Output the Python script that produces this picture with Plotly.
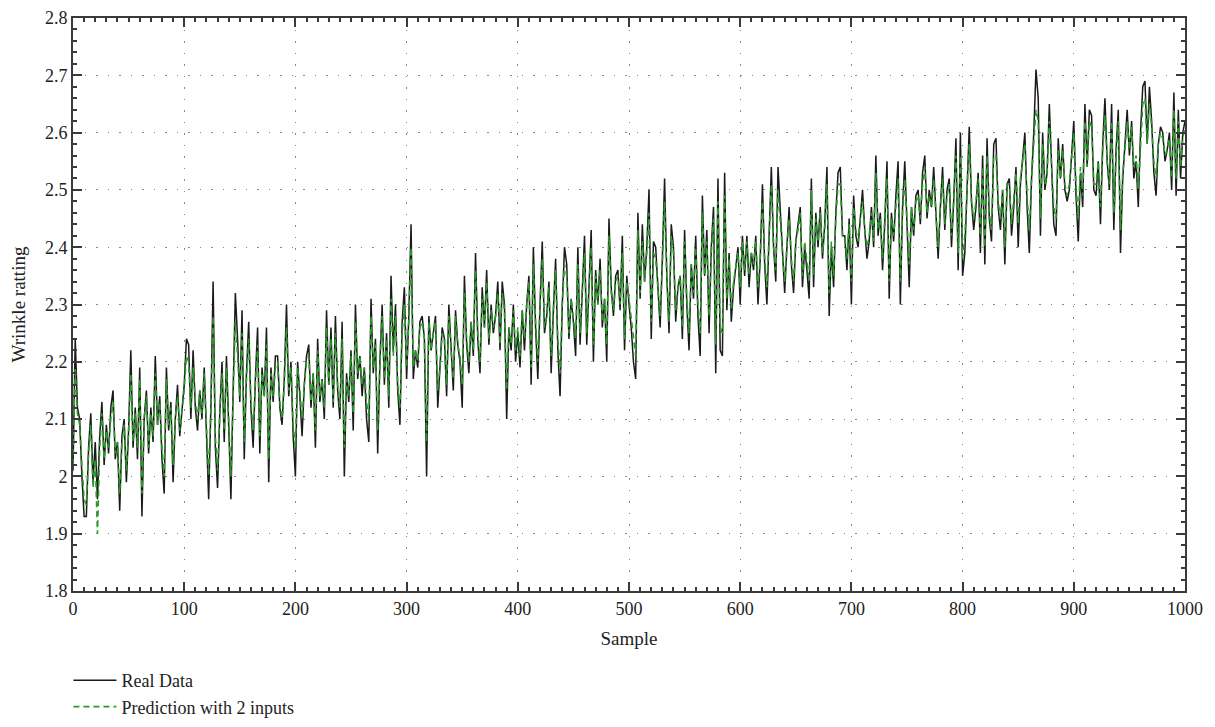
import plotly.graph_objects as go

# Sample index (every 2nd sample, 0..1000)
samples = list(range(0, 1001, 2))

real_data = [
    2.01, 2.24, 2.12, 2.10, 2.00, 1.93, 1.93, 2.05, 2.11, 1.99, 2.06, 1.96, 2.07, 2.13, 2.02, 2.09, 2.04, 2.12, 2.15, 2.03, 2.06, 1.94, 2.07, 2.10, 1.99,
    2.08, 2.22, 2.05, 2.12, 2.03, 2.19, 1.93, 2.10, 2.15, 2.04, 2.12, 2.06, 2.21, 2.09, 2.14, 2.03, 1.97, 2.19, 2.08, 2.13, 1.99, 2.10, 2.16, 2.07, 2.11,
    2.16, 2.24, 2.23, 2.10, 2.22, 2.12, 2.08, 2.15, 2.10, 2.19, 2.07, 1.96, 2.12, 2.34, 2.05, 1.98, 2.11, 2.20, 2.06, 2.21, 2.09, 1.96, 2.15, 2.32, 2.24,
    2.13, 2.29, 2.03, 2.18, 2.27, 2.12, 2.05, 2.17, 2.26, 2.04, 2.19, 2.14, 2.26, 1.99, 2.19, 2.13, 2.21, 2.21, 2.12, 2.09, 2.17, 2.30, 2.14, 2.20, 2.07,
    2.00, 2.20, 2.14, 2.07, 2.16, 2.21, 2.23, 2.12, 2.18, 2.05, 2.24, 2.13, 2.17, 2.10, 2.29, 2.16, 2.26, 2.12, 2.28, 2.15, 2.10, 2.27, 2.00, 2.18, 2.13,
    2.22, 2.08, 2.30, 2.17, 2.21, 2.14, 2.19, 2.10, 2.06, 2.31, 2.18, 2.24, 2.04, 2.20, 2.30, 2.16, 2.25, 2.12, 2.35, 2.22, 2.30, 2.15, 2.09, 2.27, 2.33,
    2.17, 2.28, 2.44, 2.17, 2.22, 2.19, 2.27, 2.28, 2.24, 2.00, 2.28, 2.22, 2.25, 2.28, 2.12, 2.18, 2.26, 2.24, 2.14, 2.30, 2.21, 2.15, 2.29, 2.23, 2.20,
    2.12, 2.35, 2.23, 2.18, 2.27, 2.21, 2.39, 2.24, 2.18, 2.33, 2.26, 2.36, 2.23, 2.30, 2.25, 2.28, 2.34, 2.22, 2.34, 2.30, 2.10, 2.26, 2.22, 2.30, 2.20,
    2.25, 2.19, 2.29, 2.22, 2.30, 2.35, 2.16, 2.40, 2.26, 2.17, 2.30, 2.41, 2.25, 2.28, 2.34, 2.18, 2.29, 2.38, 2.22, 2.14, 2.30, 2.40, 2.37, 2.24, 2.31,
    2.27, 2.21, 2.40, 2.23, 2.33, 2.42, 2.23, 2.34, 2.43, 2.20, 2.36, 2.30, 2.38, 2.26, 2.31, 2.20, 2.45, 2.33, 2.28, 2.35, 2.36, 2.29, 2.42, 2.22, 2.35,
    2.30, 2.26, 2.20, 2.17, 2.46, 2.31, 2.44, 2.34, 2.40, 2.50, 2.24, 2.41, 2.40, 2.33, 2.26, 2.38, 2.52, 2.35, 2.25, 2.44, 2.40, 2.27, 2.33, 2.35, 2.24,
    2.43, 2.30, 2.22, 2.37, 2.31, 2.42, 2.28, 2.21, 2.49, 2.35, 2.43, 2.25, 2.40, 2.47, 2.18, 2.52, 2.22, 2.21, 2.53, 2.29, 2.39, 2.27, 2.33, 2.37, 2.40,
    2.30, 2.42, 2.35, 2.42, 2.33, 2.39, 2.36, 2.42, 2.30, 2.38, 2.51, 2.37, 2.30, 2.44, 2.54, 2.40, 2.34, 2.54, 2.47, 2.38, 2.32, 2.40, 2.47, 2.37, 2.32,
    2.41, 2.44, 2.47, 2.33, 2.40, 2.36, 2.31, 2.52, 2.33, 2.46, 2.40, 2.47, 2.38, 2.44, 2.54, 2.28, 2.40, 2.33, 2.46, 2.53, 2.54, 2.42, 2.42, 2.36, 2.45,
    2.30, 2.49, 2.42, 2.40, 2.45, 2.50, 2.43, 2.38, 2.41, 2.47, 2.40, 2.56, 2.42, 2.46, 2.36, 2.44, 2.55, 2.31, 2.46, 2.41, 2.49, 2.55, 2.30, 2.47, 2.55,
    2.43, 2.33, 2.47, 2.42, 2.49, 2.50, 2.44, 2.53, 2.56, 2.45, 2.50, 2.47, 2.54, 2.46, 2.38, 2.47, 2.54, 2.43, 2.50, 2.52, 2.40, 2.48, 2.59, 2.36, 2.60,
    2.35, 2.39, 2.50, 2.61, 2.48, 2.43, 2.47, 2.53, 2.39, 2.56, 2.37, 2.59, 2.45, 2.41, 2.58, 2.59, 2.47, 2.43, 2.50, 2.37, 2.51, 2.52, 2.42, 2.47, 2.54,
    2.40, 2.51, 2.56, 2.60, 2.47, 2.39, 2.52, 2.60, 2.71, 2.66, 2.42, 2.60, 2.50, 2.53, 2.65, 2.54, 2.44, 2.42, 2.59, 2.52, 2.58, 2.50, 2.48, 2.50, 2.57,
    2.62, 2.49, 2.41, 2.53, 2.47, 2.65, 2.54, 2.64, 2.63, 2.50, 2.49, 2.55, 2.44, 2.58, 2.66, 2.55, 2.50, 2.65, 2.43, 2.57, 2.64, 2.39, 2.52, 2.58, 2.64,
    2.56, 2.62, 2.52, 2.55, 2.47, 2.60, 2.68, 2.69, 2.58, 2.68, 2.62, 2.53, 2.49, 2.58, 2.61, 2.60, 2.55, 2.57, 2.60, 2.50, 2.67, 2.49, 2.64, 2.52, 2.60, 2.62,
]

prediction_2_inputs = [
    2.02, 2.19, 2.11, 2.09, 2.02, 1.96, 1.95, 2.04, 2.09, 1.98, 2.03, 1.90, 2.05, 2.11, 2.03, 2.08, 2.05, 2.10, 2.13, 2.04, 2.06, 1.97, 2.06, 2.09, 2.01,
    2.08, 2.18, 2.06, 2.11, 2.05, 2.17, 1.97, 2.10, 2.14, 2.05, 2.11, 2.07, 2.18, 2.09, 2.13, 2.05, 2.00, 2.17, 2.09, 2.12, 2.02, 2.10, 2.14, 2.08, 2.11,
    2.15, 2.21, 2.20, 2.12, 2.19, 2.13, 2.10, 2.15, 2.11, 2.18, 2.09, 2.00, 2.12, 2.28, 2.07, 2.01, 2.11, 2.18, 2.08, 2.19, 2.10, 2.00, 2.14, 2.27, 2.21,
    2.14, 2.25, 2.06, 2.17, 2.24, 2.13, 2.08, 2.16, 2.23, 2.07, 2.18, 2.14, 2.23, 2.03, 2.18, 2.14, 2.19, 2.20, 2.13, 2.10, 2.16, 2.26, 2.15, 2.19, 2.09,
    2.05, 2.19, 2.15, 2.10, 2.16, 2.20, 2.21, 2.13, 2.18, 2.08, 2.22, 2.14, 2.17, 2.12, 2.26, 2.16, 2.24, 2.13, 2.25, 2.16, 2.12, 2.24, 2.05, 2.17, 2.14,
    2.21, 2.11, 2.27, 2.18, 2.21, 2.16, 2.19, 2.13, 2.10, 2.28, 2.19, 2.23, 2.08, 2.20, 2.28, 2.17, 2.24, 2.14, 2.31, 2.21, 2.28, 2.16, 2.12, 2.25, 2.30,
    2.19, 2.27, 2.40, 2.19, 2.22, 2.20, 2.26, 2.27, 2.24, 2.06, 2.27, 2.22, 2.25, 2.27, 2.15, 2.19, 2.25, 2.24, 2.16, 2.28, 2.22, 2.17, 2.28, 2.23, 2.21,
    2.16, 2.32, 2.24, 2.20, 2.27, 2.22, 2.36, 2.25, 2.20, 2.31, 2.26, 2.34, 2.24, 2.29, 2.26, 2.28, 2.32, 2.23, 2.32, 2.29, 2.15, 2.26, 2.23, 2.29, 2.22,
    2.26, 2.21, 2.29, 2.24, 2.30, 2.34, 2.19, 2.37, 2.27, 2.20, 2.30, 2.38, 2.26, 2.28, 2.33, 2.21, 2.29, 2.36, 2.24, 2.18, 2.30, 2.37, 2.35, 2.25, 2.31,
    2.28, 2.24, 2.37, 2.25, 2.32, 2.39, 2.25, 2.33, 2.40, 2.23, 2.35, 2.30, 2.36, 2.27, 2.31, 2.23, 2.42, 2.32, 2.29, 2.34, 2.35, 2.30, 2.39, 2.24, 2.34,
    2.31, 2.28, 2.24, 2.21, 2.43, 2.32, 2.41, 2.34, 2.39, 2.46, 2.27, 2.39, 2.38, 2.33, 2.28, 2.37, 2.48, 2.35, 2.27, 2.42, 2.39, 2.29, 2.33, 2.35, 2.26,
    2.41, 2.31, 2.25, 2.37, 2.32, 2.40, 2.30, 2.25, 2.46, 2.35, 2.41, 2.28, 2.39, 2.45, 2.23, 2.48, 2.26, 2.25, 2.49, 2.31, 2.38, 2.29, 2.34, 2.37, 2.39,
    2.33, 2.41, 2.36, 2.41, 2.35, 2.39, 2.37, 2.41, 2.33, 2.38, 2.48, 2.38, 2.33, 2.43, 2.51, 2.40, 2.36, 2.50, 2.45, 2.39, 2.34, 2.40, 2.45, 2.38, 2.34,
    2.41, 2.43, 2.46, 2.35, 2.41, 2.38, 2.34, 2.50, 2.35, 2.45, 2.41, 2.46, 2.39, 2.43, 2.51, 2.32, 2.41, 2.35, 2.45, 2.51, 2.51, 2.42, 2.42, 2.38, 2.44,
    2.34, 2.47, 2.43, 2.41, 2.45, 2.48, 2.43, 2.40, 2.42, 2.46, 2.41, 2.53, 2.43, 2.45, 2.38, 2.44, 2.52, 2.34, 2.45, 2.42, 2.48, 2.52, 2.34, 2.46, 2.52,
    2.44, 2.37, 2.47, 2.43, 2.48, 2.49, 2.45, 2.51, 2.54, 2.46, 2.49, 2.47, 2.52, 2.46, 2.40, 2.47, 2.52, 2.44, 2.49, 2.51, 2.42, 2.48, 2.56, 2.39, 2.56,
    2.38, 2.42, 2.50, 2.58, 2.48, 2.45, 2.48, 2.52, 2.42, 2.54, 2.40, 2.56, 2.46, 2.43, 2.56, 2.56, 2.48, 2.45, 2.50, 2.40, 2.51, 2.51, 2.44, 2.48, 2.53,
    2.44, 2.52, 2.55, 2.58, 2.49, 2.43, 2.52, 2.58, 2.64, 2.62, 2.45, 2.58, 2.51, 2.53, 2.62, 2.54, 2.47, 2.45, 2.57, 2.52, 2.57, 2.51, 2.49, 2.51, 2.56,
    2.60, 2.51, 2.45, 2.54, 2.49, 2.62, 2.54, 2.62, 2.61, 2.51, 2.51, 2.55, 2.47, 2.57, 2.63, 2.55, 2.51, 2.62, 2.46, 2.56, 2.62, 2.43, 2.53, 2.57, 2.62,
    2.57, 2.61, 2.54, 2.56, 2.50, 2.59, 2.65, 2.66, 2.58, 2.65, 2.61, 2.55, 2.52, 2.58, 2.60, 2.59, 2.56, 2.57, 2.59, 2.52, 2.64, 2.52, 2.62, 2.54, 2.59, 2.61,
]

x_tick_vals = [0, 100, 200, 300, 400, 500, 600, 700, 800, 900, 1000]
x_tick_text = ["0", "100", "200", "300", "400", "500", "600", "700", "800", "900", "1000"]
y_tick_vals = [1.8, 1.9, 2.0, 2.1, 2.2, 2.3, 2.4, 2.5, 2.6, 2.7, 2.8]
y_tick_text = ["1.8", "1.9", "2", "2.1", "2.2", "2.3", "2.4", "2.5", "2.6", "2.7", "2.8"]

FONT = "Liberation Serif, Times New Roman, serif"
AX = "#3a3a3a"

fig = go.Figure()
fig.add_trace(go.Scatter(
    x=samples, y=real_data, mode="lines", name="Real Data",
    line=dict(color="#1a1a1a", width=1.5),
))
fig.add_trace(go.Scatter(
    x=samples, y=prediction_2_inputs, mode="lines", name="Prediction with 2 inputs",
    line=dict(color="#2b9a2b", width=1.6, dash="6px,4px"),
))

axis_common = dict(
    showline=True, linecolor=AX, linewidth=1.8, mirror="ticks",
    ticks="inside", ticklen=9, tickwidth=1.6, tickcolor=AX,
    showgrid=True, gridcolor="#8a8a8a", gridwidth=1.2, griddash="1.5px,10px",
    zeroline=False, automargin=False, ticklabeloverflow="allow",
    tickfont=dict(family=FONT, size=18, color="#222"),
    title_font=dict(family=FONT, size=19, color="#222"),
)

fig.update_xaxes(
    range=[0, 1000], tickvals=x_tick_vals, ticktext=x_tick_text,
    title_text="Sample", title_standoff=14,
    minor=dict(ticks="inside", ticklen=4, tickcolor=AX, dtick=10, tick0=0, showgrid=False),
    **axis_common,
)
fig.update_yaxes(
    range=[1.8, 2.8], tickvals=y_tick_vals, ticktext=y_tick_text,
    title_text="Wrinkle ratting", title_standoff=15,
    minor=dict(ticks="inside", ticklen=4, tickcolor=AX, dtick=0.02, tick0=1.8, showgrid=False),
    **axis_common,
)

fig.update_layout(
    width=1215, height=727,
    margin=dict(l=65, r=38, t=10, b=120),
    plot_bgcolor="white", paper_bgcolor="white",
    font=dict(family=FONT, size=18, color="#222"),
    showlegend=True,
    legend=dict(
        x=-0.0041, xanchor="left", y=-0.124, yanchor="top",
        orientation="v", bgcolor="rgba(0,0,0,0)",
        font=dict(family=FONT, size=18, color="#222"),
        tracegroupgap=0, itemwidth=43,
    ),
)

fig.write_html("out.html")
